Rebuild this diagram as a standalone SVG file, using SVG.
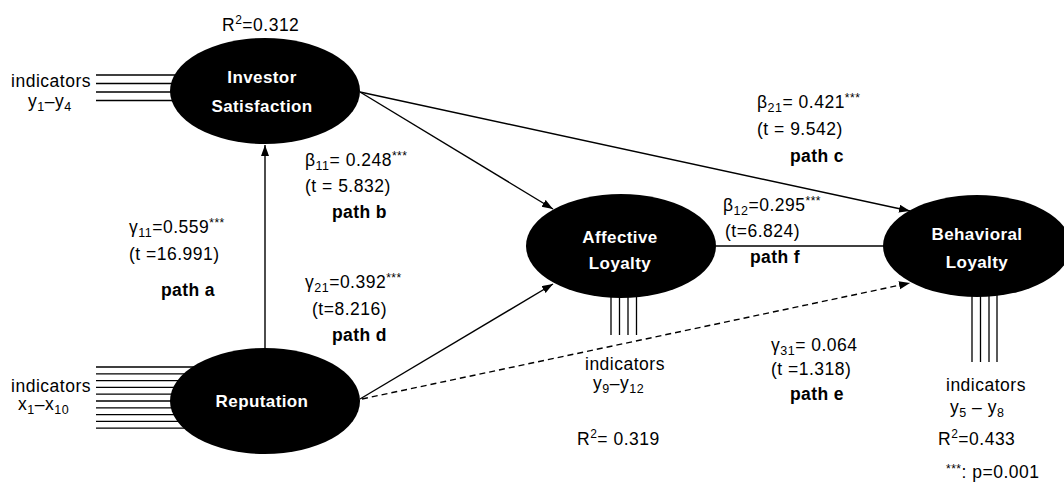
<svg xmlns="http://www.w3.org/2000/svg" width="1064" height="485" viewBox="0 0 1064 485">
<style>
text{font-family:"Liberation Sans",Arial,sans-serif;font-size:17.5px;letter-spacing:0.5px;fill:#000}
.b{font-weight:bold;letter-spacing:0.4px}
.n{font-weight:bold;fill:#fff;text-anchor:middle;font-size:17px;letter-spacing:0.4px}
.e{text-anchor:end}
.sub{font-size:12.5px}
.sup{font-size:12px}
.ind{stroke:#000;stroke-width:1.3;fill:none}
.con{stroke:#000;stroke-width:1.4;fill:none}
.dash{stroke-dasharray:6 4}
</style>
<defs>
<marker id="arr" markerUnits="userSpaceOnUse" markerWidth="12" markerHeight="10" refX="11" refY="4" orient="auto">
<path d="M0,0 L11,4 L0,8 z" fill="#000" stroke="none"/>
</marker>
</defs>
<rect width="1064" height="485" fill="#fff"/>

<g id="connectors">
<line class="con" x1="265" y1="348" x2="265" y2="145" marker-end="url(#arr)"/>
<line class="con" x1="360" y1="92" x2="553" y2="209" marker-end="url(#arr)"/>
<line class="con" x1="360" y1="92" x2="910" y2="211" marker-end="url(#arr)"/>
<line class="con" x1="360" y1="399" x2="553" y2="284" marker-end="url(#arr)"/>
<line class="con dash" x1="362" y1="399" x2="910" y2="283" marker-end="url(#arr)"/>
<line class="con" x1="716" y1="246" x2="885" y2="246"/>
</g>

<g id="investor-satisfaction">
<path class="ind" d="M96,75H200M96,83.5H200M96,92H200M96,100.5H200"/>
<ellipse cx="265" cy="91" rx="95" ry="53" fill="#000"/>
<text class="n" x="262" y="83">Investor</text>
<text class="n" x="262" y="112">Satisfaction</text>
<text class="e" x="91" y="87">indicators</text>
<text x="28" y="107">y<tspan class="sub" dy="4">1</tspan><tspan dy="-4">–y</tspan><tspan class="sub" dy="4">4</tspan></text>
<text x="222" y="31">R<tspan class="sup" dy="-7">2</tspan><tspan dy="7">=0.312</tspan></text>
</g>

<g id="reputation">
<path class="ind" d="M96,367H200M96,373.8H200M96,380.6H200M96,387.4H200M96,394.2H200M96,401H200M96,407.8H200M96,414.6H200M96,421.4H200M96,428.2H200"/>
<ellipse cx="265" cy="401" rx="95" ry="53" fill="#000"/>
<text class="n" x="262" y="407">Reputation</text>
<text class="e" x="91" y="392">indicators</text>
<text x="18" y="410">x<tspan class="sub" dy="4">1</tspan><tspan dy="-4">–x</tspan><tspan class="sub" dy="4">10</tspan></text>
</g>

<g id="affective-loyalty">
<path class="ind" d="M611,280V335M619.5,280V335M628,280V335M636.5,280V335"/>
<ellipse cx="621" cy="246" rx="95" ry="52" fill="#000"/>
<text class="n" x="620" y="243">Affective</text>
<text class="n" x="620" y="269">Loyalty</text>
<text x="585" y="370">indicators</text>
<text x="593" y="389">y<tspan class="sub" dy="4">9</tspan><tspan dy="-4">–y</tspan><tspan class="sub" dy="4">12</tspan></text>
<text x="577" y="445">R<tspan class="sup" dy="-7">2</tspan><tspan dy="7">= 0.319</tspan></text>
</g>

<g id="behavioral-loyalty">
<path class="ind" d="M972,280V362M980.5,280V362M989,280V362M997,280V362"/>
<ellipse cx="977" cy="246" rx="94" ry="51" fill="#000"/>
<text class="n" x="977" y="240">Behavioral</text>
<text class="n" x="977" y="268">Loyalty</text>
<text x="946" y="391">indicators</text>
<text x="950" y="413">y<tspan class="sub" dy="4">5</tspan><tspan dy="-4"> – y</tspan><tspan class="sub" dy="4">8</tspan></text>
<text x="938" y="445">R<tspan class="sup" dy="-7">2</tspan><tspan dy="7">=0.433</tspan></text>
</g>

<g id="labels">
<text x="129" y="233">γ<tspan class="sub" dy="4">11</tspan><tspan dy="-4">=0.559</tspan><tspan class="sup" dy="-6">***</tspan></text>
<text x="129" y="260">(t =16.991)</text>
<text class="b" x="161" y="296">path a</text>

<text x="305" y="166">β<tspan class="sub" dy="4">11</tspan><tspan dy="-4">= 0.248</tspan><tspan class="sup" dy="-6">***</tspan></text>
<text x="305" y="192">(t = 5.832)</text>
<text class="b" x="332" y="218">path b</text>

<text x="305" y="288">γ<tspan class="sub" dy="4">21</tspan><tspan dy="-4">=0.392</tspan><tspan class="sup" dy="-6">***</tspan></text>
<text x="312" y="315">(t=8.216)</text>
<text class="b" x="332" y="341">path d</text>

<text x="757" y="108">β<tspan class="sub" dy="4">21</tspan><tspan dy="-4">= 0.421</tspan><tspan class="sup" dy="-6">***</tspan></text>
<text x="757" y="135">(t = 9.542)</text>
<text class="b" x="790" y="162">path c</text>

<text x="723" y="211">β<tspan class="sub" dy="4">12</tspan><tspan dy="-4">=0.295</tspan><tspan class="sup" dy="-6">***</tspan></text>
<text x="725" y="237">(t=6.824)</text>
<text class="b" x="750" y="263">path f</text>

<text x="771" y="351">γ<tspan class="sub" dy="4">31</tspan><tspan dy="-4">= 0.064</tspan></text>
<text x="771" y="375">(t =1.318)</text>
<text class="b" x="790" y="400">path e</text>

<text x="946" y="478"><tspan class="sup" dy="-5">***</tspan><tspan dy="5">: p=0.001</tspan></text>
</g>
</svg>
